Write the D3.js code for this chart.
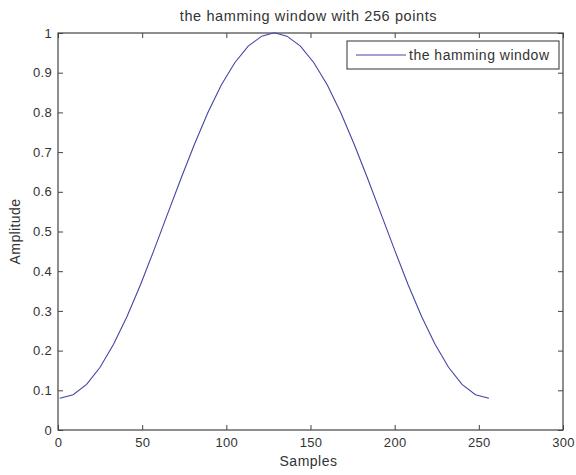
<!DOCTYPE html>
<html>
<head>
<meta charset="utf-8">
<script src="https://cdn.jsdelivr.net/npm/d3@7"></script>
<style>
body { margin: 0; background: #fff; }
svg text { font-family: "Liberation Sans", Arial, sans-serif; fill: #333; }
</style>
</head>
<body>
<svg width="576" height="475"></svg>
<script>
// values
let samples = [1, 9, 17, 25, 33, 41, 49, 57, 65, 73, 81, 89, 97, 105, 113, 121, 128,
	129, 136, 144, 152, 160, 168, 176, 184, 192, 200, 208, 216, 224, 232, 240, 248, 256];
let amplitude = [0.08, 0.089, 0.115, 0.158, 0.216, 0.286, 0.366, 0.453, 0.543, 0.633, 0.719, 0.799, 0.869, 0.925, 0.967, 0.992, 1.0,
	1.0, 0.992, 0.967, 0.925, 0.869, 0.799, 0.719, 0.633, 0.543, 0.453, 0.366, 0.286, 0.216, 0.158, 0.115, 0.089, 0.08];
let xTicks = [0, 50, 100, 150, 200, 250, 300];
let yTicks = [0, 0.1, 0.2, 0.3, 0.4, 0.5, 0.6, 0.7, 0.8, 0.9, 1];
let title = "the hamming window with 256 points";
let legendLabel = "the hamming window";

let svg = d3.select("svg"),
	pLeft = 58, pRight = 563, pTop = 33, pBottom = 430,
	axisColor = "#444",
	lineColor = "#4545a5";

let x = d3.scaleLinear().domain([0, 300]).range([pLeft, pRight]);
let y = d3.scaleLinear().domain([0, 1]).range([pBottom, pTop]);

// axes box
svg.append("rect")
	.attr("x", pLeft).attr("y", pTop)
	.attr("width", pRight - pLeft).attr("height", pBottom - pTop)
	.attr("fill", "none").attr("stroke", axisColor).attr("stroke-width", 1.2);

let gx = svg.append("g").attr("transform", `translate(0,${pBottom})`)
	.call(d3.axisBottom(x).tickValues(xTicks).tickSize(-5).tickPadding(9).tickFormat(d3.format("d")));
let gxTop = svg.append("g").attr("transform", `translate(0,${pTop})`)
	.call(d3.axisTop(x).tickValues(xTicks).tickSize(-5).tickFormat(""));
let gy = svg.append("g").attr("transform", `translate(${pLeft},0)`)
	.call(d3.axisLeft(y).tickValues(yTicks).tickSize(-5).tickPadding(6).tickFormat(d => d === 0 || d === 1 ? d : d3.format(".1f")(d)));
let gyRight = svg.append("g").attr("transform", `translate(${pRight},0)`)
	.call(d3.axisRight(y).tickValues(yTicks).tickSize(-5).tickFormat(""));

[gx, gxTop, gy, gyRight].forEach(g => {
	g.select(".domain").remove();
	g.selectAll("line").attr("stroke", axisColor);
	g.selectAll("text").style("font-size", "13px").style("letter-spacing", "0.3px").attr("fill", "#333");
});
gx.selectAll("text").attr("dy", "0.6em");

// curve
let line = d3.line().x((d, i) => x(samples[i])).y(d => y(d));
svg.append("path")
	.datum(amplitude)
	.attr("d", line)
	.attr("fill", "none")
	.attr("stroke", lineColor)
	.attr("stroke-width", 1.1);

// labels
svg.append("text")
	.attr("x", (pLeft + pRight) / 2 - 2).attr("y", 21)
	.attr("text-anchor", "middle").style("font-size", "14.5px").style("letter-spacing", "0.6px")
	.text(title);
svg.append("text")
	.attr("x", (pLeft + pRight) / 2 - 2).attr("y", 466)
	.attr("text-anchor", "middle").style("font-size", "14px").style("letter-spacing", "0.5px")
	.text("Samples");
svg.append("text")
	.attr("transform", `translate(20,${(pTop + pBottom) / 2}) rotate(-90)`)
	.attr("text-anchor", "middle").style("font-size", "14px").style("letter-spacing", "0.4px")
	.text("Amplitude");

// legend
let lg = svg.append("g");
lg.append("rect")
	.attr("x", 347).attr("y", 41).attr("width", 212).attr("height", 28)
	.attr("fill", "#fff").attr("stroke", axisColor).attr("stroke-width", 1.1);
lg.append("line")
	.attr("x1", 356).attr("x2", 406).attr("y1", 55).attr("y2", 55)
	.attr("stroke", lineColor).attr("stroke-width", 1.1);
lg.append("text")
	.attr("x", 409).attr("y", 60).style("font-size", "14px").style("letter-spacing", "0.5px")
	.text(legendLabel);
</script>
</body>
</html>
